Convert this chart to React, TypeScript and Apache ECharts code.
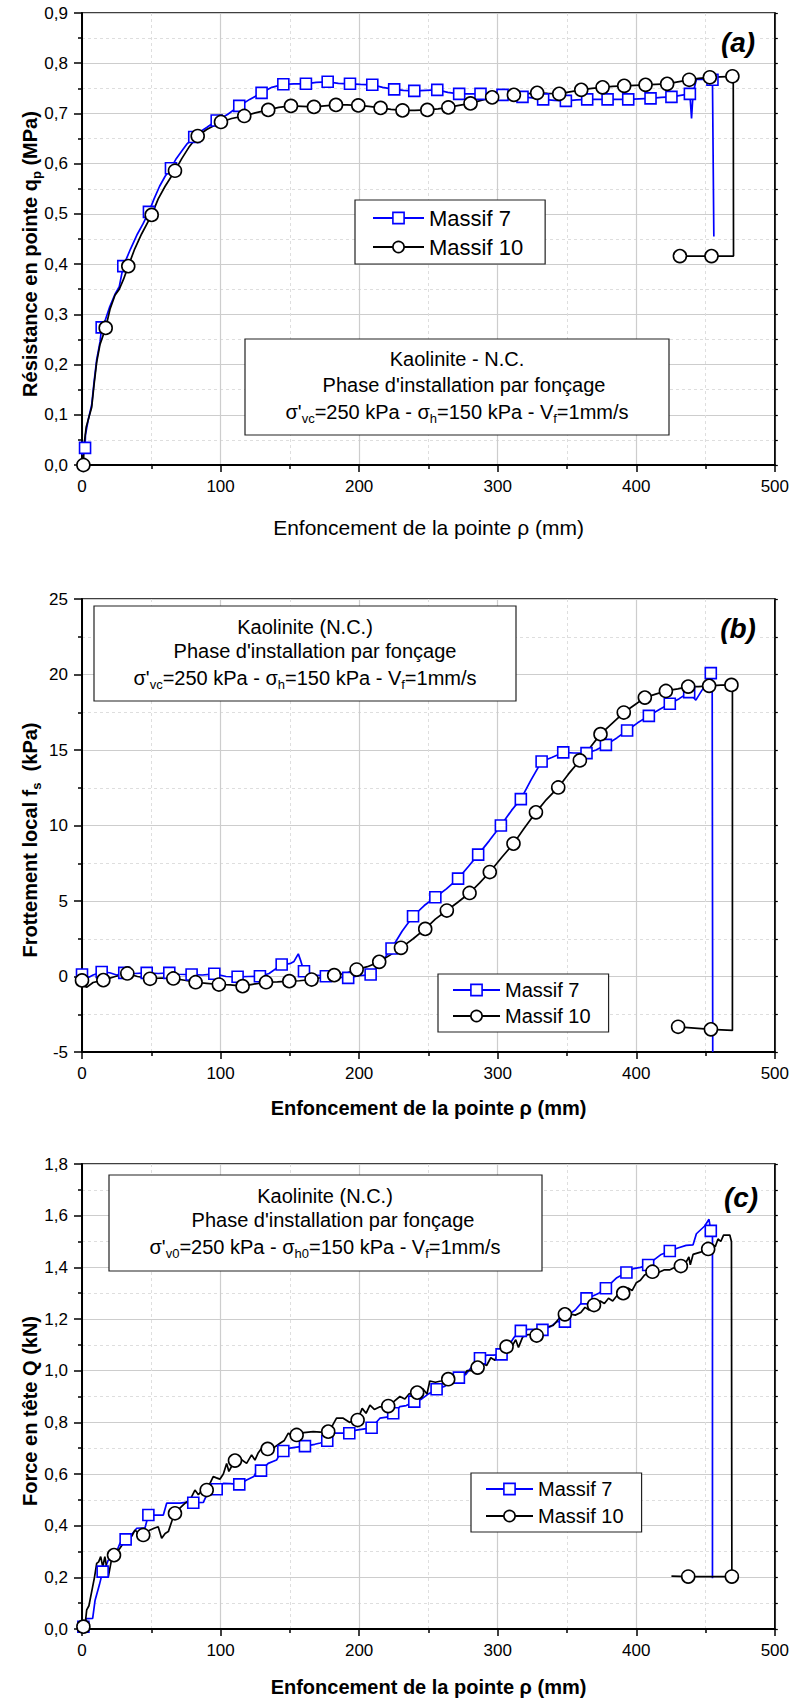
import React, { useEffect, useRef } from 'react';
import * as echarts from 'echarts';

const FONT = '"Liberation Sans", Arial, Helvetica, sans-serif';
const BLUE = '#0000ff';
const BLACK = '#000000';

// ---------- Panel (a) : tip resistance qp (MPa) ----------
const A_M7_LINE: [number, number][] = [
  [0, 0.02], [2.2, 0.034], [2.5, 0.06], [4.5, 0.09], [7, 0.12], [8.7, 0.165], [10.6, 0.21], [13, 0.245],
  [14.2, 0.274], [17, 0.29], [20, 0.315], [23.8, 0.34], [26.9, 0.355], [29.8, 0.396], [35, 0.43], [40, 0.46],
  [44, 0.48], [48.3, 0.504], [52, 0.53], [56, 0.555], [60, 0.575], [64.2, 0.591], [68, 0.61], [72, 0.625],
  [76, 0.64], [81, 0.653], [85, 0.663], [90, 0.672], [97.2, 0.686], [105, 0.698], [113.5, 0.715], [121, 0.728],
  [129.6, 0.741], [137, 0.752], [145.3, 0.758], [153, 0.759], [161.6, 0.759], [169, 0.762], [177.3, 0.763],
  [185, 0.76], [193.4, 0.759], [201, 0.758], [209.5, 0.757], [217, 0.752], [225.3, 0.748], [232, 0.746],
  [239.8, 0.745], [248, 0.746], [256.4, 0.747], [264, 0.742], [272.2, 0.739], [280, 0.739], [287.6, 0.739],
  [295, 0.738], [303.5, 0.737], [311, 0.735], [317.9, 0.733], [325, 0.731], [332.8, 0.728], [341, 0.726],
  [349.2, 0.725], [357, 0.727], [364.6, 0.728], [372, 0.728], [379.3, 0.728], [387, 0.728], [394.2, 0.728],
  [402, 0.729], [410.3, 0.73], [418, 0.732], [425.4, 0.733], [432, 0.736], [438.7, 0.739], [439.9, 0.69],
  [441, 0.74], [443.4, 0.768], [449, 0.768], [455, 0.767], [456, 0.455],
];
const A_M7_MARKS: [number, number][] = [
  [2.2, 0.034], [14.2, 0.274], [29.8, 0.396], [48.3, 0.504], [64.2, 0.591], [81, 0.653], [97.2, 0.686],
  [113.5, 0.715], [129.6, 0.741], [145.3, 0.758], [161.6, 0.759], [177.3, 0.763], [193.4, 0.759],
  [209.5, 0.757], [225.3, 0.748], [239.8, 0.745], [256.4, 0.747], [272.2, 0.739], [287.6, 0.739],
  [303.5, 0.737], [317.9, 0.733], [332.8, 0.728], [349.2, 0.725], [364.6, 0.728], [379.3, 0.728],
  [394.2, 0.728], [410.3, 0.73], [425.4, 0.733], [438.7, 0.739], [455, 0.767],
];
const A_M10_LINE: [number, number][] = [
  [0, 0.0], [1, 0.0], [1.5, 0.04], [3, 0.075], [5, 0.095], [7, 0.115], [8.7, 0.16], [10.6, 0.205], [13, 0.24],
  [17.1, 0.273], [20.2, 0.31], [23.8, 0.338], [26.9, 0.35], [30, 0.37], [33.4, 0.396], [38, 0.43], [43, 0.46],
  [50.3, 0.498], [55, 0.53], [60, 0.555], [67.1, 0.586], [72, 0.61], [77, 0.632], [83.5, 0.655], [90, 0.668],
  [100.3, 0.683], [108, 0.69], [117.1, 0.695], [125, 0.701], [134.4, 0.707], [142, 0.712], [150.8, 0.715],
  [159, 0.714], [167.4, 0.713], [175, 0.715], [183.3, 0.717], [191, 0.717], [199.4, 0.716], [207, 0.714],
  [215.5, 0.711], [223, 0.708], [231.3, 0.706], [240, 0.706], [249.2, 0.707], [257, 0.709], [264.4, 0.712],
  [272, 0.716], [280.4, 0.72], [288, 0.726], [296, 0.732], [304, 0.735], [311.7, 0.737], [320, 0.739],
  [328.5, 0.741], [336, 0.74], [344.4, 0.739], [352, 0.743], [360.3, 0.747], [368, 0.75], [375.7, 0.752],
  [383, 0.754], [391.3, 0.755], [399, 0.756], [406.7, 0.757], [414, 0.758], [422.3, 0.759], [430, 0.763],
  [438.2, 0.767], [445, 0.77], [453.1, 0.772], [461, 0.773], [469.4, 0.774], [470, 0.774], [470.2, 0.416],
  [454.3, 0.416], [431.5, 0.416],
];
const A_M10_MARKS: [number, number][] = [
  [1, 0.0], [17.1, 0.273], [33.4, 0.396], [50.3, 0.498], [67.1, 0.586], [83.5, 0.655], [100.3, 0.683],
  [117.1, 0.695], [134.4, 0.707], [150.8, 0.715], [167.4, 0.713], [183.3, 0.717], [199.4, 0.716],
  [215.5, 0.711], [231.3, 0.706], [249.2, 0.707], [264.4, 0.712], [280.4, 0.72], [296, 0.732],
  [311.7, 0.737], [328.5, 0.741], [344.4, 0.739], [360.3, 0.747], [375.7, 0.752], [391.3, 0.755],
  [406.7, 0.757], [422.3, 0.759], [438.2, 0.767], [453.1, 0.772], [469.4, 0.774], [454.3, 0.416],
  [431.5, 0.416],
];

// ---------- Panel (b) : local friction fs (kPa) ----------
const B_M7_LINE: [number, number][] = [
  [0, 0.13], [2, 0.1], [5, -0.05], [8, 0.1], [14.2, 0.3], [20, 0.25], [25, 0.1], [30.5, 0.24], [38, 0.2],
  [46.7, 0.24], [55, 0.2], [63, 0.24], [70, 0.15], [79.1, 0.13], [87, 0.1], [95.5, 0.18], [104, 0.0],
  [112.3, -0.02], [120, 0.0], [128.4, 0.02], [135, 0.2], [144.1, 0.79], [150, 0.85], [153, 1.0], [156.1, 1.5],
  [158, 1.0], [160.2, 0.35], [168, 0.1], [176, 0.02], [184, -0.05], [192.1, -0.09], [200, 0.05], [208.3, 0.13],
  [215, 0.8], [223.4, 1.85], [231, 3.0], [238.9, 3.99], [247, 4.7], [255, 5.25], [263, 5.8], [271.4, 6.48],
  [279, 7.3], [285.9, 8.07], [294, 9.0], [302.3, 10.0], [310, 11.0], [316.7, 11.75], [324, 13.0],
  [331.7, 14.24], [339, 14.5], [347.3, 14.84], [355, 14.8], [364.1, 14.79], [371, 15.0], [378.1, 15.34],
  [386, 15.8], [393.4, 16.29], [401, 16.8], [409.1, 17.26], [417, 17.7], [424.2, 18.06], [431, 18.4],
  [438.2, 18.83], [443, 18.3], [447, 18.9], [450, 19.3], [453.8, 20.09], [454.8, 19.4], [455.2, -5],
];
const B_M7_MARKS: [number, number][] = [
  [0, 0.13], [14.2, 0.3], [30.5, 0.24], [46.7, 0.24], [63, 0.24], [79.1, 0.13], [95.5, 0.18], [112.3, -0.02],
  [128.4, 0.02], [144.1, 0.79], [160.2, 0.35], [176, 0.02], [192.1, -0.09], [208.3, 0.13], [223.4, 1.85],
  [238.9, 3.99], [255, 5.25], [271.4, 6.48], [285.9, 8.07], [302.3, 10.0], [316.7, 11.75], [331.7, 14.24],
  [347.3, 14.84], [364.1, 14.79], [378.1, 15.34], [393.4, 16.29], [409.1, 17.26], [424.2, 18.06],
  [438.2, 18.83], [453.8, 20.09],
];
const B_M10_LINE: [number, number][] = [
  [0, -0.3], [1, -0.64], [3.6, -0.7], [8, -0.4], [15.4, -0.24], [24, 0.0], [32.7, 0.2], [40, 0.0],
  [49.1, -0.15], [57, -0.1], [65.9, -0.13], [74, -0.25], [82, -0.38], [90, -0.45], [98.8, -0.53], [107, -0.55],
  [115.9, -0.64], [124, -0.5], [132.8, -0.38], [141, -0.35], [149.6, -0.31], [157, -0.28], [165.7, -0.2],
  [174, -0.05], [182, 0.09], [190, 0.2], [198.2, 0.46], [206, 0.65], [214.5, 0.97], [222, 1.4], [230.2, 1.9],
  [239, 2.5], [247.7, 3.15], [255, 3.8], [263.3, 4.37], [271, 4.9], [279.7, 5.53], [287, 6.2], [294.3, 6.92],
  [303, 7.9], [311.4, 8.8], [319, 9.8], [327.6, 10.87], [335, 11.7], [343.7, 12.52], [351, 13.4],
  [359.3, 14.31], [367, 15.2], [374.2, 16.05], [383, 16.8], [391, 17.48], [399, 18.0], [406.2, 18.47],
  [414, 18.7], [421.4, 18.91], [430, 19.05], [437.5, 19.2], [445, 19.2], [452.6, 19.25], [461, 19.3],
  [468.7, 19.31], [469.4, 19.3], [469.4, -3.57], [453.9, -3.5], [430.2, -3.33],
];
const B_M10_MARKS: [number, number][] = [
  [0, -0.26], [15.4, -0.24], [32.7, 0.2], [49.1, -0.15], [65.9, -0.13], [82, -0.38], [98.8, -0.53],
  [115.9, -0.64], [132.8, -0.38], [149.6, -0.31], [165.7, -0.2], [182, 0.09], [198.2, 0.46], [214.5, 0.97],
  [230.2, 1.9], [247.7, 3.15], [263.3, 4.37], [279.7, 5.53], [294.3, 6.92], [311.4, 8.8], [327.6, 10.87],
  [343.7, 12.52], [359.3, 14.31], [374.2, 16.05], [391, 17.48], [406.2, 18.47], [421.4, 18.91],
  [437.5, 19.2], [452.6, 19.25], [468.7, 19.31], [453.9, -3.5], [430.2, -3.33],
];

// ---------- Panel (c) : head force Q (kN) ----------
const C_M7_LINE: [number, number][] = [
  [0, 0.0], [2, 0.02], [3, 0.04], [7.7, 0.041], [9.4, 0.11], [12.5, 0.17], [14.9, 0.222], [17, 0.24],
  [19, 0.267], [22.6, 0.27], [25, 0.3], [27.4, 0.332], [31.5, 0.347], [35, 0.36], [39.5, 0.39], [45.5, 0.392],
  [47.9, 0.441], [52, 0.441], [58.7, 0.441], [61.1, 0.487], [66, 0.487], [70.7, 0.487], [75, 0.49],
  [80.3, 0.489], [87.6, 0.49], [90, 0.519], [93, 0.52], [97.2, 0.541], [102, 0.564], [107, 0.563],
  [113.5, 0.56], [118.8, 0.577], [124, 0.59], [126, 0.61], [129.2, 0.613], [134.4, 0.641], [140.4, 0.654],
  [143, 0.68], [145.3, 0.689], [150, 0.7], [155, 0.704], [160.9, 0.708], [168, 0.715], [172, 0.72],
  [177, 0.729], [181.4, 0.758], [187, 0.758], [192.9, 0.758], [198, 0.77], [204, 0.775], [209, 0.779],
  [215, 0.816], [220, 0.82], [224.6, 0.835], [229.4, 0.861], [234, 0.865], [239.8, 0.88], [245, 0.89],
  [250, 0.91], [255.9, 0.928], [262, 0.94], [266, 0.96], [272, 0.973], [277, 0.985], [282, 1.02],
  [287.2, 1.048], [292, 1.06], [297, 1.06], [302.8, 1.063], [307, 1.09], [312, 1.13], [316.7, 1.154],
  [322, 1.16], [327, 1.16], [332.3, 1.158], [338, 1.17], [343, 1.19], [348.5, 1.19], [352, 1.22],
  [356, 1.235], [360, 1.26], [364.1, 1.28], [369, 1.29], [373, 1.3], [378.1, 1.319], [382, 1.34],
  [386, 1.36], [392.9, 1.38], [398, 1.395], [403, 1.4], [408.6, 1.409], [413, 1.43], [418, 1.45],
  [424.2, 1.463], [430, 1.475], [436, 1.485], [441, 1.487], [443.4, 1.53], [449.4, 1.56], [452.5, 1.586],
  [453.8, 1.541], [455, 1.54], [455, 0.196],
];
const C_M7_MARKS: [number, number][] = [
  [1, 0.009], [14.9, 0.222], [31.5, 0.347], [47.9, 0.441], [80.3, 0.489], [97.2, 0.541], [113.5, 0.56],
  [129.2, 0.613], [145.3, 0.689], [160.9, 0.708], [177, 0.729], [192.9, 0.758], [209, 0.779], [224.6, 0.835],
  [239.8, 0.88], [255.9, 0.928], [272, 0.973], [287.2, 1.048], [302.8, 1.063], [316.7, 1.154],
  [332.3, 1.158], [348.5, 1.19], [364.1, 1.28], [378.1, 1.319], [392.9, 1.38], [408.6, 1.409],
  [424.2, 1.463], [453.8, 1.541],
];
const C_M10_LINE: [number, number][] = [
  [0, 0.0], [2.2, 0.015], [3.4, 0.074], [5, 0.09], [7.7, 0.164], [9, 0.2], [10.6, 0.254], [12, 0.26],
  [13.5, 0.28], [15, 0.24], [16.5, 0.28], [19, 0.202], [21, 0.26], [23.1, 0.286], [27, 0.31], [29.8, 0.332],
  [33, 0.35], [36, 0.36], [38.2, 0.383], [41, 0.37], [44.2, 0.364], [48, 0.38], [52, 0.39], [55, 0.396],
  [57.5, 0.351], [60, 0.37], [62.3, 0.377], [65, 0.42], [67.1, 0.448], [71, 0.47], [75, 0.49], [78, 0.5],
  [81.5, 0.538], [84, 0.52], [87, 0.54], [90, 0.538], [94.7, 0.59], [97, 0.585], [99.5, 0.58], [102, 0.6],
  [104.4, 0.641], [106, 0.61], [108, 0.63], [110.4, 0.652], [114, 0.66], [118.8, 0.641], [122.4, 0.674],
  [124.8, 0.654], [127, 0.68], [129.6, 0.7], [134, 0.697], [138, 0.7], [142.9, 0.719], [146, 0.73],
  [148.9, 0.758], [152, 0.745], [154.9, 0.751], [160, 0.76], [166.9, 0.764], [172, 0.762], [177.7, 0.764],
  [181, 0.79], [183.7, 0.816], [188.5, 0.816], [193, 0.8], [198.9, 0.809], [202.2, 0.854], [205, 0.835],
  [207.8, 0.867], [211, 0.85], [215, 0.86], [221, 0.863], [225, 0.88], [229.4, 0.9], [233, 0.89],
  [236, 0.91], [241.9, 0.915], [246, 0.93], [249, 0.91], [251, 0.96], [255, 0.955], [259, 0.96],
  [264.3, 0.967], [268, 0.96], [271, 0.99], [274, 0.975], [278, 1.0], [282, 1.0], [285.5, 1.012],
  [289, 1.03], [292, 1.02], [295, 1.05], [298, 1.04], [301, 1.08], [306.4, 1.093], [310, 1.09],
  [313, 1.12], [315, 1.09], [318, 1.13], [322, 1.14], [328.1, 1.136], [332, 1.16], [336, 1.17],
  [340, 1.175], [344, 1.2], [348.5, 1.218], [352, 1.22], [356, 1.215], [360, 1.225], [363, 1.245],
  [366, 1.235], [369.5, 1.254], [374, 1.27], [377, 1.26], [380, 1.28], [383, 1.27], [386, 1.29],
  [390.6, 1.3], [394, 1.32], [397, 1.31], [400, 1.34], [403, 1.35], [406, 1.37], [411.7, 1.383],
  [416, 1.38], [420, 1.39], [424, 1.39], [428, 1.4], [432.2, 1.405], [436, 1.42], [438, 1.44], [439, 1.41],
  [441, 1.45], [444, 1.455], [447, 1.46], [451.9, 1.471], [455, 1.49], [457, 1.48], [459, 1.51], [461, 1.5],
  [463, 1.525], [467.5, 1.525], [468.7, 1.5], [469, 0.203], [437.5, 0.203], [425.4, 0.205],
];
const C_M10_MARKS: [number, number][] = [
  [1, 0.009], [23.1, 0.286], [44.2, 0.364], [67.1, 0.448], [90, 0.538], [110.4, 0.652], [134, 0.697],
  [154.9, 0.751], [177.7, 0.764], [198.9, 0.809], [221, 0.863], [241.9, 0.915], [264.3, 0.967],
  [285.5, 1.012], [306.4, 1.093], [328.1, 1.136], [348.5, 1.218], [369.5, 1.254], [390.6, 1.3],
  [411.7, 1.383], [432.2, 1.405], [451.9, 1.471], [469, 0.203], [437.5, 0.203],
];

// ---------- axes ----------
const X_RANGE = { min: 0, max: 500, interval: 100 };
const Y_RANGES = [
  { min: 0, max: 0.9, interval: 0.1, decimals: 1 },
  { min: -5, max: 25, interval: 5, decimals: 0 },
  { min: 0, max: 1.8, interval: 0.2, decimals: 1 },
];
const SERIES_NAMES = ['Massif 7', 'Massif 10'];
const PANEL_LABELS = ['(a)', '(b)', '(c)'];
const BOX_LINE1 = ['Kaolinite - N.C.', 'Kaolinite (N.C.)', 'Kaolinite (N.C.)'];
const BOX_LINE2 = "Phase d'installation par fonçage";
const BOX_SUBS = [['vc', 'h'], ['vc', 'h'], ['v0', 'h0']];
const Y_TITLES = [
  ['Résistance en pointe q', 'p', ' (MPa)'],
  ['Frottement local f', 's', '  (kPa)'],
  ['Force en tête Q (kN)', '', ''],
];
const X_TITLE = 'Enfoncement de la pointe ρ (mm)';

// layout
const GRIDS = [
  { left: 82, top: 13, width: 693, height: 452 },
  { left: 82, top: 599, width: 693, height: 453 },
  { left: 82, top: 1164, width: 693, height: 465 },
];
const LEGENDS = [
  { left: 355, top: 200, padding: [7, 22, 6, 17], itemGap: 7, itemWidth: 51, fontSize: 22 },
  { left: 438, top: 974, padding: [6, 18, 6, 14], itemGap: 6, itemWidth: 47, fontSize: 20 },
  { left: 471, top: 1473, padding: [6, 18, 6, 14], itemGap: 7, itemWidth: 47, fontSize: 20 },
];
const BOXES = [
  { x: 245, y: 339, w: 424, h: 96, cx: 457, l2dx: 7, ys: [359, 385, 412] },
  { x: 94, y: 606, w: 422, h: 95, cx: 305, l2dx: 10, ys: [627, 651, 678] },
  { x: 109, y: 1175, w: 433, h: 96, cx: 325, l2dx: 8, ys: [1196, 1220, 1247] },
];
const LABEL_POS = [[738, 42], [738, 628], [741, 1197]];
const XTITLE_Y = [527, 1108, 1687];
const XTITLE_BOLD = [false, true, true];
const YTITLE_POS = [[30, 254], [30, 840], [30, 1411]];

function fmt(v: number, d: number) {
  return v.toFixed(d).replace('.', ',');
}

function buildOption() {
  const grid: any[] = [];
  const xAxis: any[] = [];
  const yAxis: any[] = [];
  const series: any[] = [];
  const legend: any[] = [];
  const graphic: any[] = [];

  const lines = [
    [A_M7_LINE, A_M10_LINE],
    [B_M7_LINE, B_M10_LINE],
    [C_M7_LINE, C_M10_LINE],
  ];
  const marks = [
    [A_M7_MARKS, A_M10_MARKS],
    [B_M7_MARKS, B_M10_MARKS],
    [C_M7_MARKS, C_M10_MARKS],
  ];

  for (let k = 0; k < 3; k++) {
    const g = GRIDS[k];
    grid.push({ ...g, show: true, borderColor: '#000', borderWidth: 1.5, backgroundColor: 'transparent' });
    xAxis.push({
      type: 'value', gridIndex: k, ...X_RANGE,
      axisLine: { show: true, onZero: false, lineStyle: { color: '#000', width: 2 } },
      axisTick: { show: true, inside: false, length: 7, lineStyle: { color: '#000', width: 1.5 } },
      minorTick: { show: true, splitNumber: 2, length: 4, lineStyle: { color: '#000', width: 1.5 } },
      axisLabel: { color: '#000', fontSize: 17, fontFamily: FONT, margin: 13 },
      splitLine: { show: true, lineStyle: { color: '#cdcdcd', width: 1.2 } },
      minorSplitLine: { show: true, lineStyle: { color: '#dedede', width: 1, type: [3, 3] } },
    });
    const yr = Y_RANGES[k];
    yAxis.push({
      type: 'value', gridIndex: k, min: yr.min, max: yr.max, interval: yr.interval,
      axisLine: { show: true, onZero: false, lineStyle: { color: '#000', width: 2 } },
      axisTick: { show: true, inside: false, length: 8, lineStyle: { color: '#000', width: 1.5 } },
      minorTick: { show: true, splitNumber: 2, length: 4, lineStyle: { color: '#000', width: 1.5 } },
      axisLabel: { color: '#000', fontSize: 17, fontFamily: FONT, margin: 14, formatter: (v: number) => fmt(v, yr.decimals) },
      splitLine: { show: true, lineStyle: { color: '#cdcdcd', width: 1.2 } },
      minorSplitLine: { show: true, lineStyle: { color: '#dedede', width: 1, type: [3, 3] } },
    });
  }
  // right-hand frame axes with small ticks
  for (let k = 0; k < 3; k++) {
    const yr = Y_RANGES[k];
    yAxis.push({
      type: 'value', gridIndex: k, position: 'right', min: yr.min, max: yr.max, interval: yr.interval,
      axisLine: { show: true, onZero: false, lineStyle: { color: '#000', width: 1.5 } },
      axisTick: { show: true, inside: false, length: 3, lineStyle: { color: '#000', width: 1.2 } },
      minorTick: { show: true, splitNumber: 2, length: 3, lineStyle: { color: '#000', width: 1.2 } },
      axisLabel: { show: false },
      splitLine: { show: false },
    });
  }

  for (let k = 0; k < 3; k++) {
    const colors = [BLUE, BLACK];
    const syms = ['rect', 'circle'];
    const sizes = [11, 13];
    for (let s = 0; s < 2; s++) {
      series.push({
        name: SERIES_NAMES[s], type: 'line', xAxisIndex: k, yAxisIndex: k,
        data: lines[k][s], showSymbol: false, symbol: syms[s], symbolSize: sizes[s],
        lineStyle: { color: colors[s], width: 1.7 }, itemStyle: { color: colors[s] },
        silent: true, z: 3,
      });
      series.push({
        name: SERIES_NAMES[s] + ' markers', type: 'scatter', xAxisIndex: k, yAxisIndex: k,
        data: marks[k][s], symbol: syms[s], symbolSize: sizes[s],
        itemStyle: { color: '#fff', borderColor: colors[s], borderWidth: 1.6, opacity: 1 },
        silent: true, z: 3,
      });
    }
    const L = LEGENDS[k];
    legend.push({
      left: L.left, top: L.top, orient: 'vertical', padding: L.padding, itemGap: L.itemGap,
      itemWidth: L.itemWidth, itemHeight: 14, backgroundColor: '#fff', borderColor: '#222', borderWidth: 1.2,
      selectedMode: false, z: 6,
      textStyle: { fontSize: L.fontSize, fontFamily: FONT, color: '#000' },
      data: [
        { name: SERIES_NAMES[0], itemStyle: { color: '#fff', borderColor: BLUE, borderWidth: 1.6 }, lineStyle: { color: BLUE, width: 2 } },
        { name: SERIES_NAMES[1], itemStyle: { color: '#fff', borderColor: BLACK, borderWidth: 1.6 }, lineStyle: { color: BLACK, width: 2 } },
      ],
    });

    // annotation box
    const B = BOXES[k];
    graphic.push({
      type: 'rect', z: 10, shape: { x: B.x, y: B.y, width: B.w, height: B.h },
      style: { fill: '#fff', stroke: '#222', lineWidth: 1.2 },
    });
    const main = { fontSize: 20, fontFamily: FONT, fill: '#000', lineHeight: 26, verticalAlign: 'middle' };
    const sub = { fontSize: 13, fontFamily: FONT, fill: '#000', lineHeight: 12, verticalAlign: 'bottom' };
    graphic.push({
      type: 'text', z: 11, x: B.cx, y: B.ys[0],
      style: { text: BOX_LINE1[k], font: `20px ${FONT}`, fill: '#000', align: 'center', verticalAlign: 'middle' },
    });
    graphic.push({
      type: 'text', z: 11, x: B.cx + B.l2dx, y: B.ys[1],
      style: { text: BOX_LINE2, font: `20px ${FONT}`, fill: '#000', align: 'center', verticalAlign: 'middle' },
    });
    const [s1, s2] = BOX_SUBS[k];
    graphic.push({
      type: 'text', z: 11, x: B.cx, y: B.ys[2],
      style: {
        text: `{m|σ'}{s|${s1}}{m|=250 kPa - σ}{s|${s2}}{m|=150 kPa - V}{s|f}{m|=1mm/s}`,
        rich: { m: main, s: sub }, align: 'center', verticalAlign: 'middle',
      },
    });

    // panel label
    graphic.push({
      type: 'text', z: 11, x: LABEL_POS[k][0], y: LABEL_POS[k][1],
      style: {
        text: PANEL_LABELS[k], font: `italic bold 28px ${FONT}`, fill: '#000', align: 'center',
        verticalAlign: 'middle', backgroundColor: '#fff', padding: [1, 3],
      },
    });

    // y title
    const [t1, t2, t3] = Y_TITLES[k];
    const yb = { fontSize: 20, fontWeight: 'bold', fontFamily: FONT, fill: '#000', lineHeight: 25, verticalAlign: 'middle' };
    const ys = { fontSize: 13, fontWeight: 'bold', fontFamily: FONT, fill: '#000', lineHeight: 11, verticalAlign: 'bottom' };
    const ytxt = t2 ? `{b|${t1}}{s|${t2}}{b|${t3}}` : `{b|${t1}}`;
    graphic.push({
      type: 'text', z: 11, x: YTITLE_POS[k][0], y: YTITLE_POS[k][1], rotation: Math.PI / 2,
      style: { text: ytxt, rich: { b: yb, s: ys }, align: 'center', verticalAlign: 'middle' },
    });

    // x title
    graphic.push({
      type: 'text', z: 11, x: GRIDS[k].left + GRIDS[k].width / 2, y: XTITLE_Y[k],
      style: {
        text: X_TITLE, font: `${XTITLE_BOLD[k] ? 'bold 20px' : '21px'} ${FONT}`, fill: '#000',
        align: 'center', verticalAlign: 'middle',
      },
    });
  }

  return {
    animation: false,
    backgroundColor: '#fff',
    grid, xAxis, yAxis, series, legend, graphic,
  };
}

export default function App() {
  const ref = useRef<HTMLDivElement>(null);
  useEffect(() => {
    if (!ref.current) return;
    const chart = echarts.init(ref.current, null, { renderer: 'svg' });
    chart.setOption(buildOption() as any);
    return () => chart.dispose();
  }, []);
  return (
    <div
      ref={ref}
      style={{ position: 'absolute', left: 0, top: 0, width: 792, height: 1704, background: '#fff' }}
    />
  );
}
